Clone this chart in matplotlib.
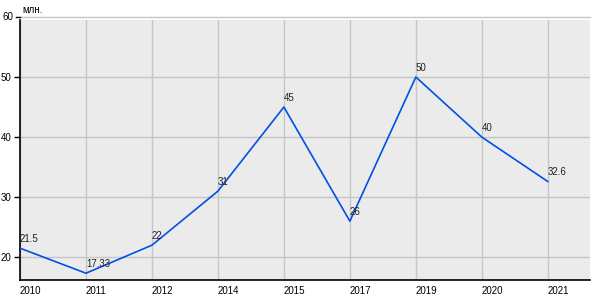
import matplotlib.pyplot as plt

years = ['2010', '2011', '2012', '2014', '2015', '2017', '2019', '2020', '2021']
values = [21.5, 17.33, 22, 31, 45, 26, 50, 40, 32.6]
labels = ['21.5', '17.33', '22', '31', '45', '26', '50', '40', '32.6']
yticks = [20, 30, 40, 50, 60]

plt.rcParams['font.family'] = ['Liberation Sans', 'DejaVu Sans']

fig = plt.figure(figsize=(6, 3), dpi=100)
ax = fig.add_axes([20 / 600, 20 / 300, 570 / 600, 260 / 300])
ax.set_facecolor('#ebebeb')

x = list(range(len(years)))
ax.plot(x, values, color='#0050e6', lw=1.2, zorder=3)
for xi, v, t in zip(x, values, labels):
    ax.annotate(t, (xi, v), xytext=(0, 3), textcoords='offset points',
                ha='left', va='bottom', fontsize=7, color='#222222', zorder=4)

ax.set_xlim(0, 8.64)
ax.set_ylim(16.2, 59.5)
ax.set_xticks(x)
ax.set_xticklabels(years, ha='left', fontsize=7)
ax.set_yticks(yticks[:-1])
ax.set_yticklabels([str(t) for t in yticks[:-1]], fontsize=7)
ax.tick_params(axis='x', length=0, pad=4)
ax.tick_params(axis='y', length=4, width=1, pad=2)
ax.grid(True, color='#c6c6c6', lw=1)
ax.set_axisbelow(True)

# top gridline at 60 sits just above the plot area
ax.axhline(60, color='#c6c6c6', lw=1, clip_on=False)
ax.plot([-0.06, 0], [60, 60], color='black', lw=1, clip_on=False)
ax.text(-0.1, 60, '60', ha='right', va='center', fontsize=7)
ax.text(0.04, 60.3, 'млн.', ha='left', va='bottom', fontsize=7)

for s in ['top', 'right']:
    ax.spines[s].set_visible(False)
ax.spines['left'].set_linewidth(1.2)
ax.spines['bottom'].set_linewidth(1.2)

fig.savefig('out.png', dpi=100)
